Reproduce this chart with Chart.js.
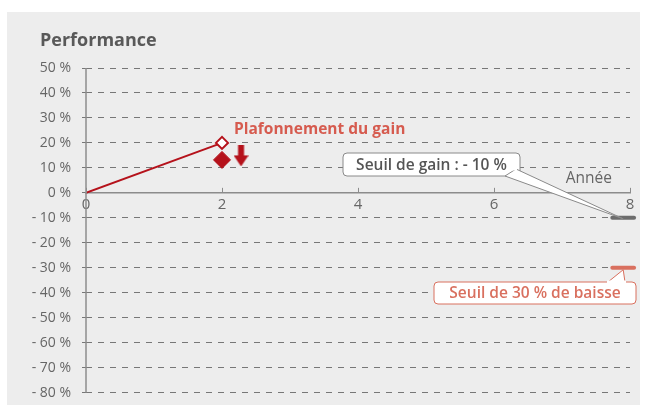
<!DOCTYPE html>
<html>
<head>
<meta charset="utf-8">
<script src="https://cdn.jsdelivr.net/npm/chart.js@4"></script>
<style>
  html, body { margin: 0; padding: 0; background: #fff; }
  #wrap { width: 648px; height: 412px; }
</style>
</head>
<body>
<div id="wrap"><canvas id="myChart"></canvas></div>
<script>
// performance line (year, %)
var perf_years = [0, 2];
var perf_values = [0, 20];
// capped gain marker and arrow
var cap_point = {x: 2, y: 13.2};
var arrow_point = {x: 2.28, y: 14.8};
// thresholds
var gain_threshold = -10;
var loss_threshold = -30;
var threshold_span = [7.74, 8.06];
// axes
var x_ticks = [0, 2, 4, 6, 8];
var y_min = -80, y_max = 50;

var RED = '#b5121b';
var SALMON = '#d9705f';
var FONT = "'Open Sans', sans-serif";

function pct(v) {
    return v < 0 ? '- ' + (-v) + ' %' : v + ' %';
}

// arrow point style
var arrowImg = document.createElement('canvas');
arrowImg.width = 15; arrowImg.height = 21;
(function () {
    var c = arrowImg.getContext('2d');
    c.fillStyle = RED;
    c.fillRect(4.5, 0, 6, 11);
    c.beginPath();
    c.moveTo(0, 10); c.lineTo(15, 10); c.lineTo(7.5, 21); c.closePath();
    c.fill();
})();

var decorations = {
    id: 'decorations',
    beforeDraw: function (chart) {
        var ctx = chart.ctx;
        ctx.save();
        ctx.fillStyle = '#ededed';
        ctx.fillRect(7, 12, 633, 393);
        ctx.restore();
    },
    afterDatasetsDraw: function (chart) {
        var ctx = chart.ctx, xs = chart.scales.x, ys = chart.scales.y;
        ctx.save();
        // y axis line
        ctx.strokeStyle = '#8c8c8c';
        ctx.lineWidth = 1.5;
        ctx.beginPath();
        ctx.moveTo(xs.getPixelForValue(0), ys.top);
        ctx.lineTo(xs.getPixelForValue(0), ys.bottom);
        ctx.stroke();
        // x tick marks (upward)
        var y0 = ys.getPixelForValue(0);
        ctx.lineWidth = 1;
        x_ticks.forEach(function (t) {
            var px = Math.round(xs.getPixelForValue(t)) + 0.5;
            ctx.beginPath();
            ctx.moveTo(px, y0);
            ctx.lineTo(px, y0 - 5);
            ctx.stroke();
        });

        // title
        ctx.fillStyle = '#595959';
        ctx.font = "bold 18px " + FONT;
        ctx.textBaseline = 'alphabetic';
        ctx.textAlign = 'left';
        ctx.fillText('Performance', 40, 46);

        // axis title
        ctx.fillStyle = '#666';
        ctx.font = "15.5px " + FONT;
        ctx.textAlign = 'right';
        ctx.textBaseline = 'middle';
        ctx.fillText('Année', 612, y0 - 14);

        // capped gain label
        ctx.fillStyle = '#d65b4f';
        ctx.font = "bold 15.5px " + FONT;
        ctx.textAlign = 'left';
        ctx.fillText('Plafonnement du gain', xs.getPixelForValue(2) + 12, ys.getPixelForValue(20) - 13);

        // gain threshold callout
        var ax = xs.getPixelForValue(7.9), ay = ys.getPixelForValue(gain_threshold) + 1;
        callout(ctx, 343, 153, 177, 23, [505, 516, 176, 169], ax, ay,
            '#8a8a8a', '#555', 'Seuil de gain : - 10 %');

        // loss threshold callout
        var bx = xs.getPixelForValue(7.9), by = ys.getPixelForValue(loss_threshold) + 2;
        callout(ctx, 434, 282, 202, 22, [608, 625, 282, 282], bx, by,
            SALMON, SALMON, 'Seuil de 30 % de baisse');
        ctx.restore();
    }
};

function callout(ctx, x, y, w, h, base, tx, ty, stroke, color, text) {
    var r = 4;
    ctx.save();
    ctx.lineWidth = 1;
    ctx.strokeStyle = stroke;
    ctx.fillStyle = '#fff';
    ctx.beginPath();
    ctx.moveTo(x + r, y);
    ctx.lineTo(x + w - r, y);
    ctx.arcTo(x + w, y, x + w, y + r, r);
    ctx.lineTo(x + w, y + h - r);
    ctx.arcTo(x + w, y + h, x + w - r, y + h, r);
    ctx.lineTo(x + r, y + h);
    ctx.arcTo(x, y + h, x, y + h - r, r);
    ctx.lineTo(x, y + r);
    ctx.arcTo(x, y, x + r, y, r);
    ctx.closePath();
    ctx.fill();
    ctx.stroke();
    // pointer
    ctx.beginPath();
    ctx.moveTo(base[0], base[2]);
    ctx.lineTo(tx, ty);
    ctx.lineTo(base[1], base[3]);
    ctx.closePath();
    ctx.fill();
    ctx.stroke();
    // cover seam
    ctx.fillStyle = '#fff';
    ctx.fillRect(Math.min(base[0], base[1]) - 1, Math.min(base[2], base[3]) - 1.5, Math.abs(base[1] - base[0]) + 2, 3);
    ctx.fillStyle = color;
    ctx.font = "600 15.5px " + FONT;
    ctx.textAlign = 'center';
    ctx.textBaseline = 'middle';
    ctx.fillText(text, x + w / 2, y + h / 2 + 1);
    ctx.restore();
}

var ctx = document.getElementById("myChart");
var myChart = new Chart(ctx, {
    type: 'scatter',
    data: {
        datasets: [
            {
                label: 'Performance',
                data: perf_years.map(function (x, i) { return {x: x, y: perf_values[i]}; }),
                showLine: true,
                borderColor: RED,
                borderWidth: 2,
                pointStyle: 'rectRot',
                pointRadius: [0, 6],
                pointBorderWidth: 2,
                pointBorderColor: RED,
                pointBackgroundColor: '#fff',
                order: 1
            },
            {
                label: 'Gain plafonné',
                data: [cap_point],
                pointStyle: 'rectRot',
                pointRadius: 8.5,
                pointBackgroundColor: RED,
                pointBorderColor: RED,
                order: 2
            },
            {
                label: 'Flèche',
                data: [arrow_point],
                pointStyle: arrowImg,
                order: 2
            },
            {
                label: 'Seuil de gain',
                data: threshold_span.map(function (x) { return {x: x, y: gain_threshold}; }),
                showLine: true,
                borderColor: '#6d6d6d',
                borderWidth: 4,
                borderCapStyle: 'round',
                pointRadius: 0,
                clip: false,
                order: 3
            },
            {
                label: 'Seuil de baisse',
                data: threshold_span.map(function (x) { return {x: x, y: loss_threshold}; }),
                showLine: true,
                borderColor: SALMON,
                borderWidth: 4,
                borderCapStyle: 'round',
                pointRadius: 0,
                clip: false,
                order: 3
            }
        ]
    },
    options: {
        responsive: true,
        maintainAspectRatio: false,
        animation: false,
        layout: { padding: { left: 0, right: 18, top: 68, bottom: 19 } },
        plugins: {
            legend: { display: false },
            tooltip: { enabled: false }
        },
        scales: {
            x: {
                type: 'linear',
                position: { y: 0 },
                min: 0,
                max: 8,
                afterBuildTicks: function (scale) {
                    scale.ticks = x_ticks.map(function (v) { return {value: v}; });
                },
                grid: { display: false, drawTicks: false },
                border: { display: true, color: '#8c8c8c', width: 1.5 },
                ticks: { color: '#666', padding: 3, font: { family: FONT, size: 15 } }
            },
            y: {
                min: y_min,
                max: y_max,
                afterFit: function (scale) { scale.width = 86; },
                grid: {
                    color: '#777',
                    lineWidth: 1,
                    tickLength: 4,
                    tickBorderDash: [6, 6]
                },
                border: { display: false, dash: [6, 6] },
                ticks: {
                    stepSize: 10,
                    color: '#666',
                    padding: 11,
                    font: { family: FONT, size: 14 },
                    callback: function (v) { return pct(v); }
                }
            }
        }
    },
    plugins: [decorations]
});
</script>
</body>
</html>
